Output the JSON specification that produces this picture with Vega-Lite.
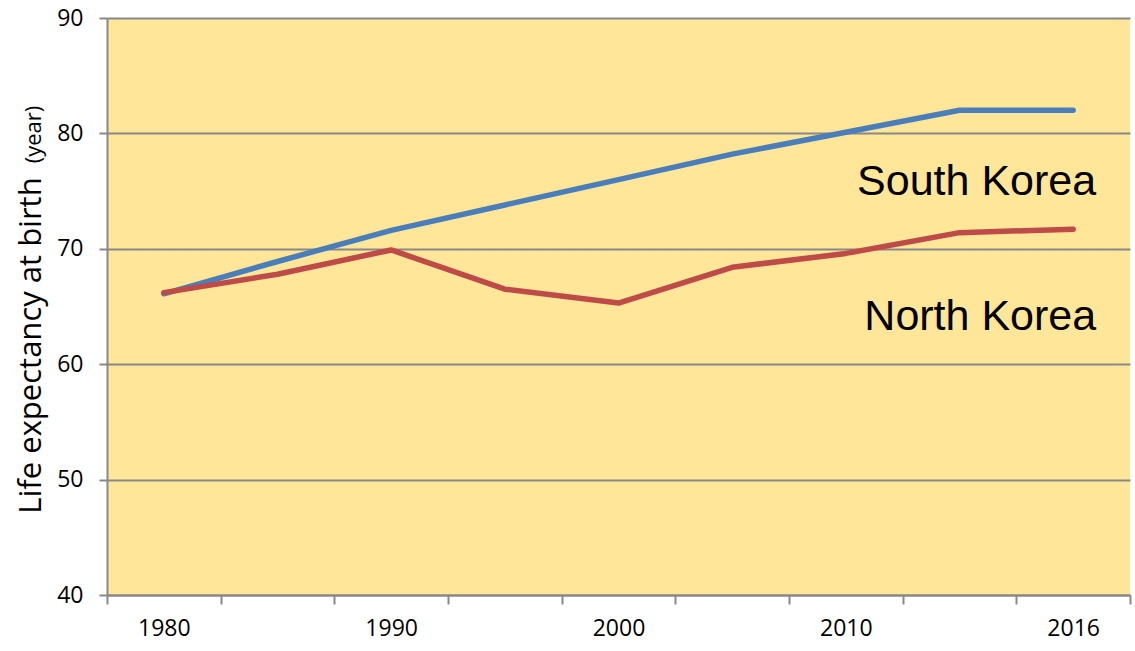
{
  "$schema": "https://vega.github.io/schema/vega-lite/v6.json",
  "width": 1023,
  "height": 577,
  "autosize": {"type": "none"},
  "padding": {"left": 107, "top": 18, "right": 5, "bottom": 56},
  "background": "white",
  "config": {"view": {"fill": "#FFE699", "stroke": null}},
  "datasets": {
    "series": [
      {"country": "South Korea", "year": "1980", "value": 66.1},
      {"country": "South Korea", "year": "1985", "value": 68.9},
      {"country": "South Korea", "year": "1990", "value": 71.6},
      {"country": "South Korea", "year": "1995", "value": 73.8},
      {"country": "South Korea", "year": "2000", "value": 76.0},
      {"country": "South Korea", "year": "2005", "value": 78.2},
      {"country": "South Korea", "year": "2010", "value": 80.1},
      {"country": "South Korea", "year": "2015", "value": 82.0},
      {"country": "South Korea", "year": "2016", "value": 82.0},
      {"country": "North Korea", "year": "1980", "value": 66.2},
      {"country": "North Korea", "year": "1985", "value": 67.8},
      {"country": "North Korea", "year": "1990", "value": 69.9},
      {"country": "North Korea", "year": "1995", "value": 66.5},
      {"country": "North Korea", "year": "2000", "value": 65.3},
      {"country": "North Korea", "year": "2005", "value": 68.4},
      {"country": "North Korea", "year": "2010", "value": 69.6},
      {"country": "North Korea", "year": "2015", "value": 71.4},
      {"country": "North Korea", "year": "2016", "value": 71.7}
    ],
    "labels": [
      {"label": "South Korea", "year": "2016", "value": 74.7},
      {"label": "North Korea", "year": "2016", "value": 63.0}
    ]
  },
  "layer": [
    {
      "data": {"name": "series"},
      "mark": {"type": "line", "strokeWidth": 5.5, "strokeCap": "round", "strokeJoin": "round"},
      "encoding": {
        "x": {
          "field": "year", "type": "ordinal",
          "scale": {"type": "band", "paddingInner": 0, "paddingOuter": 0},
          "axis": {
            "title": null,
            "labelAngle": 0,
            "labelExpr": "indexof(['1980','1990','2000','2010','2016'], datum.value) >= 0 ? datum.value : ''",
            "labelFont": "Open Sans", "labelFontSize": 23, "labelColor": "black",
            "labelPadding": 13,
            "tickBand": "extent",
            "tickSize": 9, "tickColor": "#888888", "tickWidth": 2,
            "domainColor": "#888888", "domainWidth": 2,
            "grid": false
          }
        },
        "y": {
          "field": "value", "type": "quantitative",
          "scale": {"domain": [40, 90], "nice": false, "zero": false},
          "axis": {
            "title": "Life expectancy at birth",
            "titleFont": "Open Sans", "titleFontSize": 31, "titleFontWeight": "normal", "titleColor": "black",
            "titleAngle": -90, "titleAlign": "center", "titleBaseline": "alphabetic",
            "titleX": -67, "titleY": 327,
            "values": [40, 50, 60, 70, 80, 90],
            "labelFont": "Open Sans", "labelFontSize": 23, "labelColor": "black",
            "labelPadding": 16,
            "tickSize": 8, "tickColor": "#888888", "tickWidth": 2,
            "domainColor": "#888888", "domainWidth": 2,
            "grid": true, "gridColor": "#888888", "gridWidth": 2
          }
        },
        "color": {
          "field": "country", "type": "nominal",
          "scale": {"domain": ["South Korea", "North Korea"], "range": ["#4A7EBB", "#BE4B48"]},
          "legend": null
        }
      }
    },
    {
      "data": {"name": "labels"},
      "mark": {"type": "text", "align": "right", "baseline": "alphabetic", "font": "Liberation Sans", "fontSize": 43, "dx": 23, "color": "black"},
      "encoding": {
        "x": {"field": "year", "type": "ordinal"},
        "y": {
          "field": "value", "type": "quantitative",
          "axis": {
            "orient": "right",
            "title": "(year)",
            "titleFont": "Open Sans", "titleFontSize": 22, "titleFontWeight": "normal", "titleColor": "black",
            "titleAngle": -90, "titleAlign": "center", "titleBaseline": "alphabetic",
            "titleX": -1090, "titleY": 116,
            "labels": false, "ticks": false, "domain": false, "grid": false
          }
        },
        "text": {"field": "label"}
      }
    }
  ],
  "resolve": {"axis": {"y": "independent"}}
}
